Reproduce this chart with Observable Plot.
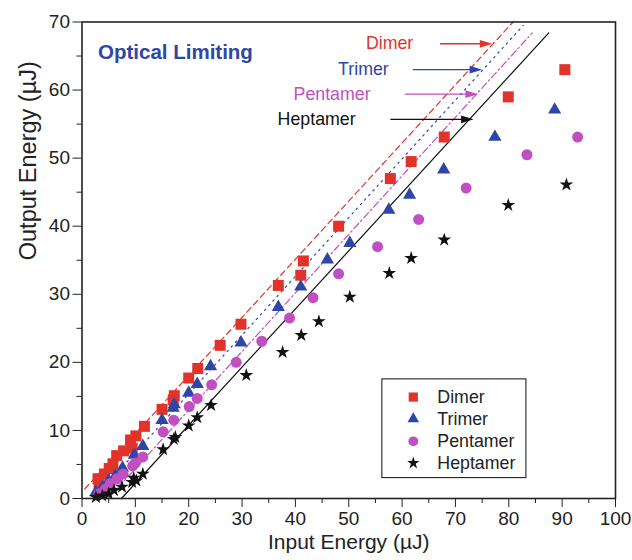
<!DOCTYPE html>
<html><head><meta charset="utf-8">
<script src="https://cdn.jsdelivr.net/npm/d3@7"></script>
<script src="https://cdn.jsdelivr.net/npm/@observablehq/plot@0.6"></script>
<style>body{margin:0;background:#fff;} #chart svg{display:block;}</style>
</head><body><div id="chart"></div>
<script>
// ---- data ----
const seriesNames = ["Dimer", "Trimer", "Pentamer", "Heptamer"];
const seriesColors = ["#e2332b", "#2f46a6", "#c24fc2", "#111111"];
const seriesSymbols = ["square", "triangle", "circle", "star"];

const dimer = [[3.2,2.2],[3.0,2.9],[4.2,3.6],[5.1,4.4],[5.8,5.1],[6.5,6.3],[7.8,7.0],[9.1,8.6],[9.4,7.4],[10.1,9.2],[11.7,10.6],[15.0,13.1],[17.1,14.5],[17.3,15.1],[20.0,17.7],[21.7,19.1],[25.9,22.5],[29.8,25.6],[36.8,31.3],[41.0,32.8],[41.5,34.9],[48.1,40.0],[57.8,47.0],[61.7,49.5],[67.9,53.1],[79.9,59.0],[90.5,63.0]];
const trimer = [[2.6,0.9],[3.8,1.6],[5.0,2.6],[6.3,3.4],[7.6,4.5],[9.8,6.4],[11.4,7.7],[15.0,11.5],[17.1,13.3],[17.3,13.8],[20.0,15.5],[21.6,16.8],[24.1,19.4],[29.8,22.9],[36.8,28.1],[41.0,31.1],[46.0,35.1],[50.2,37.5],[57.5,42.4],[61.4,44.6],[67.8,48.3],[77.4,53.1],[88.6,57.1]];
const pentamer = [[3.2,0.7],[4.4,1.4],[5.3,2.2],[6.6,2.9],[7.7,3.6],[9.5,4.8],[10.0,5.2],[11.4,6.1],[15.2,9.8],[17.2,11.5],[20.1,13.5],[21.6,14.7],[24.3,16.7],[28.9,20.0],[33.7,23.1],[38.9,26.5],[43.3,29.5],[48.1,33.0],[55.4,37.0],[63.1,41.0],[72.0,45.6],[83.4,50.5],[92.9,53.1]];
const heptamer = [[2.6,0.2],[3.8,0.4],[5.0,0.7],[6.0,1.2],[7.5,1.7],[9.4,2.4],[10.2,2.6],[9.7,3.0],[11.4,3.6],[15.2,7.2],[17.2,8.7],[17.5,9.0],[20.0,10.7],[21.6,11.9],[24.2,13.7],[30.8,18.1],[37.6,21.5],[41.1,24.0],[44.4,26.0],[50.2,29.6],[57.6,33.1],[61.7,35.3],[67.9,38.0],[79.9,43.1],[90.8,46.1]];

// linear-transmission reference lines (start, end)
const dimerFit = [[0.5,1.4],[80.8,70.0]];
const trimerFit = [[2.2,0.0],[82.7,69.5]];
const pentamerFit = [[4.9,0.0],[84.4,68.4]];
const heptamerFit = [[7.4,0.0],[87.5,68.4]];

const xTickValues = [0,10,20,30,40,50,60,70,80,90,100];
const xMinorTicks = [5,15,25,35,45,55,65,75,85,95];
const yTickValues = [0,10,20,30,40,50,60,70];
const yMinorTicks = [5,15,25,35,45,55,65];

const titleText = "Optical Limiting";
const xLabel = "Input Energy (µJ)";
const yLabel = "Output Energy (µJ)";

// ---- layout (annotation placement in data units) ----
const annLabelX = [62.1, 57.5, 54.1, 51.3];
const annY = [66.8, 63.0, 59.4, 55.7];
const arrowX1 = [67.1, 62.0, 60.5, 57.8];
const arrowX2 = [76.9, 75.0, 74.2, 73.4];
const legendBox = {x1: 56.3, x2: 83.3, y1: 3.0, y2: 17.5};
const legendRowY = [14.9, 11.7, 8.4, 5.2];
const legendSymX = 62.1, legendTextX = 66.6;

const seriesData = [dimer, trimer, pentamer, heptamer];
const fits = [dimerFit, trimerFit, pentamerFit, heptamerFit];
const dashes = ["6,4", "1.6,4.6", "7,3,1.6,3", null];
const dotR = [6.2, 4.9, 5.5, 4.3];
const legendR = [5.2, 4.3, 4.9, 3.9];

const arrowHead = {
  draw(ctx, size) {
    const r = Math.sqrt(size / Math.PI);
    ctx.moveTo(0, 0);
    ctx.lineTo(-2.4 * r, -0.75 * r);
    ctx.lineTo(-2.4 * r, 0.75 * r);
    ctx.closePath();
  }
};

const marks = [];
marks.push(Plot.axisX(xMinorTicks, {tickSize: 5, tickFormat: () => "", label: null, stroke: "#222"}));
marks.push(Plot.axisX(xTickValues, {tickSize: 9, tickPadding: 4, fontSize: 19, label: null, stroke: "#222", fill: "#222"}));
marks.push(Plot.axisY(yMinorTicks, {tickSize: 5, tickFormat: () => "", label: null, stroke: "#222"}));
marks.push(Plot.axisY(yTickValues, {tickSize: 9, tickPadding: 3, fontSize: 19, label: null, stroke: "#222", fill: "#222"}));

fits.forEach((f, i) => {
  marks.push(Plot.line(f, {x: d => d[0], y: d => d[1], stroke: seriesColors[i], strokeWidth: 1.2, strokeDasharray: dashes[i] || undefined}));
});

seriesData.forEach((s, i) => {
  marks.push(Plot.dot(s, {x: d => d[0], y: d => d[1], symbol: seriesSymbols[i], fill: seriesColors[i], stroke: "none", r: dotR[i]}));
});

// annotations with arrows
seriesNames.forEach((name, i) => {
  marks.push(Plot.text([name], {x: () => annLabelX[i], y: () => annY[i], text: d => d, textAnchor: "end", fontSize: 17.8, fill: seriesColors[i]}));
  marks.push(Plot.link([name], {x1: () => arrowX1[i], x2: () => arrowX2[i] - 1, y1: () => annY[i], y2: () => annY[i], stroke: seriesColors[i], strokeWidth: 1.4}));
  marks.push(Plot.dot([name], {x: () => arrowX2[i], y: () => annY[i], symbol: arrowHead, r: 5.2, fill: seriesColors[i], stroke: "none"}));
});

// legend
marks.push(Plot.rect([legendBox], {x1: "x1", x2: "x2", y1: "y1", y2: "y2", fill: "white", stroke: "#222", strokeWidth: 1.1}));
seriesNames.forEach((name, i) => {
  marks.push(Plot.dot([name], {x: () => legendSymX, y: () => legendRowY[i], symbol: seriesSymbols[i], fill: seriesColors[i], stroke: "none", r: legendR[i]}));
  marks.push(Plot.text([name], {x: () => legendTextX, y: () => legendRowY[i], text: d => d, textAnchor: "start", fontSize: 17.8, fill: "#222"}));
});

// title and axis labels
marks.push(Plot.text([titleText], {text: d => d, frameAnchor: "top-left", dx: 16, dy: 22, textAnchor: "start", fontSize: 20.5, fontWeight: "bold", fill: "#2f46a6"}));
marks.push(Plot.text([xLabel], {text: d => d, frameAnchor: "bottom", dy: 50, fontSize: 21, fill: "#222"}));
marks.push(Plot.text([yLabel], {text: d => d, frameAnchor: "left", dx: -54, rotate: -90, fontSize: 23.5, fill: "#222"}));

marks.push(Plot.frame({stroke: "#222", strokeWidth: 1.6}));

const chart = Plot.plot({
  width: 632,
  height: 560,
  marginLeft: 81.5,
  marginRight: 17,
  marginTop: 21.5,
  marginBottom: 62,
  x: {domain: [0, 100]},
  y: {domain: [0, 70]},
  style: {fontFamily: "'Liberation Sans', Arial, Helvetica, sans-serif", background: "white", overflow: "visible"},
  marks
});
document.getElementById("chart").append(chart);
</script>
</body></html>
